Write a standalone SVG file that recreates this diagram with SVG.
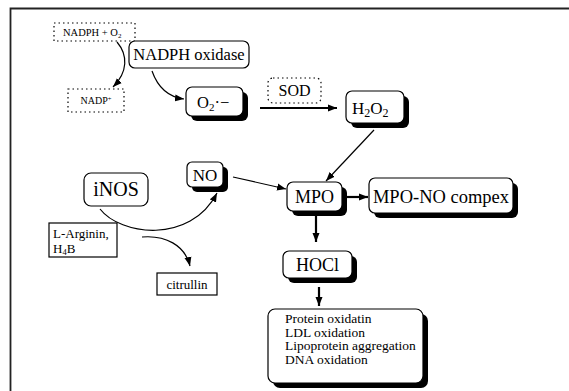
<svg xmlns="http://www.w3.org/2000/svg" width="569" height="391" viewBox="0 0 569 391">
<defs>
<marker id="ah" markerUnits="userSpaceOnUse" markerWidth="10" markerHeight="8" refX="9" refY="4" orient="auto"><path d="M0,0.5 L9,4 L0,7.5 Z" fill="#000"/></marker>
</defs>
<style>
text{font-family:"Liberation Serif","Times New Roman",serif;fill:#000}
.box{fill:#fff;stroke:#000;stroke-width:1.2}
.sh{fill:#000}
.dot{fill:#fff;stroke:#000;stroke-width:1.2;stroke-dasharray:1.5 3}
.plain{fill:#fff;stroke:#000;stroke-width:1.2}
.c{fill:none;stroke:#000;stroke-width:1.2;marker-end:url(#ah)}
.t{fill:none;stroke:#000;stroke-width:2.2;marker-end:url(#ah)}
</style>
<rect width="569" height="391" fill="#fff"/>
<path d="M10.5,391 V8.5 H569" fill="none" stroke="#222" stroke-width="1.8"/>

<g id="connectors">
<path class="c" d="M117,42 C128,55 128,72 113,87"/>
<path class="c" d="M152,71 C158,88 168,97 184,99"/>
<path class="t" d="M260,108 H337"/>
<path class="c" d="M374,130 L326,181"/>
<path class="c" d="M233,177 L286,189"/>
<path class="t" d="M347,197 H368"/>
<path class="t" d="M316,214 V242"/>
<path class="t" d="M319,287 V306"/>
<path class="c" d="M100,209 C120,235 190,245 217,193"/>
<path class="c" d="M142,237 C165,235 185,245 190,266"/>
</g>

<g id="nadph_o2">
<rect class="dot" x="54" y="23" width="81" height="18"/>
<text x="63" y="35.5" font-size="10.5">NADPH + O<tspan font-size="7" dy="2">2</tspan></text>
</g>
<g id="nadp">
<rect class="dot" x="68" y="89" width="56" height="23"/>
<text x="96" y="104" font-size="10" text-anchor="middle">NADP<tspan font-size="6.5" dy="-3.5">+</tspan></text>
</g>
<g id="nadph_oxidase">
<rect class="box" x="129" y="41" width="120" height="27" rx="6"/>
<text x="189" y="60" font-size="16.5" text-anchor="middle">NADPH oxidase</text>
</g>
<g id="o2">
<rect class="sh" x="191" y="92" width="57" height="29" rx="6"/>
<rect class="box" x="186" y="87" width="57" height="29" rx="6"/>
<text x="197" y="108" font-size="16.5">O<tspan font-size="11" dy="3">2</tspan><tspan dy="-3">·−</tspan></text>
</g>
<g id="sod">
<rect class="dot" x="268" y="78" width="53" height="25" rx="5"/>
<text x="294.5" y="96" font-size="16" text-anchor="middle">SOD</text>
</g>
<g id="h2o2">
<rect class="sh" x="351" y="96" width="58" height="32" rx="6"/>
<rect class="box" x="346" y="91" width="58" height="32" rx="6"/>
<text x="352" y="114" font-size="17">H<tspan font-size="12" dy="3">2</tspan><tspan dy="-3">O</tspan><tspan font-size="12" dy="3">2</tspan></text>
</g>
<g id="no">
<rect class="sh" x="192" y="167" width="36" height="25" rx="5"/>
<rect class="box" x="187" y="162" width="36" height="25" rx="5"/>
<text x="205" y="181" font-size="17" text-anchor="middle">NO</text>
</g>
<g id="mpo">
<rect class="sh" x="292" y="187" width="55" height="29" rx="6"/>
<rect class="box" x="287" y="182" width="55" height="29" rx="6"/>
<text x="314.5" y="203" font-size="18" text-anchor="middle">MPO</text>
</g>
<g id="mpo_no">
<rect class="sh" x="374" y="183" width="144" height="35" rx="6"/>
<rect class="box" x="369" y="178" width="144" height="35" rx="6"/>
<text x="441" y="203" font-size="18.5" text-anchor="middle">MPO-NO compex</text>
</g>
<g id="inos">
<rect class="box" x="84" y="173" width="64" height="33" rx="7"/>
<text x="116" y="196" font-size="20" text-anchor="middle">iNOS</text>
</g>
<g id="larginin">
<rect class="plain" x="49" y="223" width="68" height="34"/>
<text x="53" y="238" font-size="13">L-Arginin,</text>
<text x="53" y="253" font-size="13">H<tspan font-size="8.5" dy="2">4</tspan><tspan dy="-2">B</tspan></text>
</g>
<g id="citrullin">
<rect class="plain" x="157" y="273" width="60" height="22"/>
<text x="187" y="288.5" font-size="13" text-anchor="middle">citrullin</text>
</g>
<g id="hocl">
<rect class="sh" x="288" y="256" width="69" height="27" rx="6"/>
<rect class="box" x="283" y="251" width="69" height="27" rx="6"/>
<text x="317.5" y="271" font-size="18" text-anchor="middle">HOCl</text>
</g>
<g id="effects">
<rect class="sh" x="273" y="314" width="155" height="74" rx="7"/>
<rect class="box" x="268" y="309" width="155" height="74" rx="7"/>
<text x="285" y="323" font-size="13.5">Protein oxidatin</text>
<text x="285" y="336.5" font-size="13.5">LDL oxidation</text>
<text x="285" y="350" font-size="13.5">Lipoprotein aggregation</text>
<text x="285" y="363.5" font-size="13.5">DNA oxidation</text>
</g>
</svg>
